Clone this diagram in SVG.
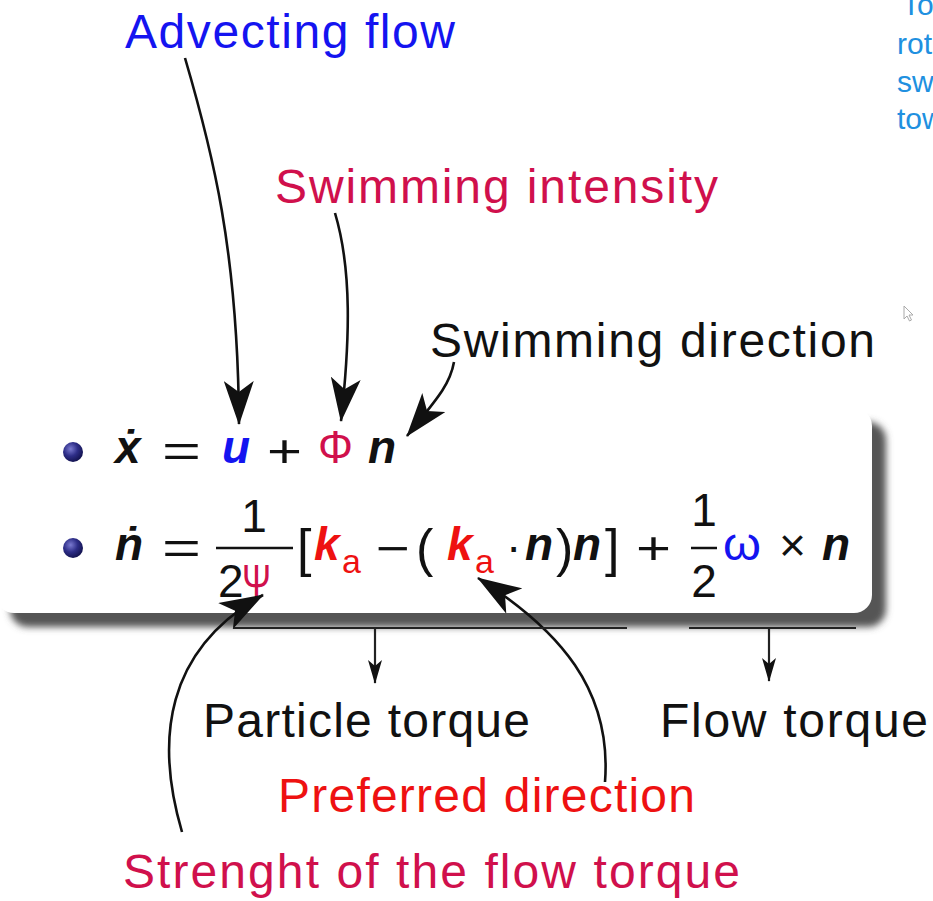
<svg xmlns="http://www.w3.org/2000/svg" width="933" height="901" viewBox="0 0 933 901">
<defs>
<style>
.lbl{font-family:"Liberation Sans","Open Sans",sans-serif;font-size:48px}
.m{font-family:"Liberation Sans","DejaVu Sans",sans-serif;font-size:46px;fill:#111}
.bi{font-weight:bold;font-style:italic}
.sub{font-family:"Liberation Sans","DejaVu Sans",sans-serif;font-size:34px;fill:#ee1111}
.br{font-family:"Liberation Sans","DejaVu Sans",sans-serif;font-size:52px;fill:#111}
.side{font-family:"Liberation Sans",Arial,sans-serif;font-size:30px;fill:#2090e0}
.blue{fill:#1414f0}
.crim{fill:#d0104c}
.red{fill:#ee1111}
.conn{fill:none;stroke:#111;stroke-width:2.6}
.thin{fill:none;stroke:#222;stroke-width:2.2}
</style>
<marker id="big" markerUnits="userSpaceOnUse" viewBox="0 0 44 30" refX="43" refY="15" markerWidth="44" markerHeight="30" orient="auto">
<path d="M44,15 L0,0 L11,15 L0,30 Z" fill="#111"/>
</marker>
<marker id="small" markerUnits="userSpaceOnUse" viewBox="0 0 24 14" refX="23" refY="7" markerWidth="24" markerHeight="14" orient="auto">
<path d="M24,7 L0,0 L6,7 L0,14 Z" fill="#111"/>
</marker>
<radialGradient id="ball" cx="0.38" cy="0.35" r="0.7">
<stop offset="0" stop-color="#7a7ad0"/>
<stop offset="0.5" stop-color="#2e2e88"/>
<stop offset="1" stop-color="#10104a"/>
</radialGradient>
<filter id="blur" x="-5%" y="-20%" width="110%" height="140%">
<feGaussianBlur stdDeviation="3.5"/>
</filter>
</defs>
<rect width="933" height="901" fill="#ffffff"/>

<g id="box">
<rect x="10" y="422" width="876" height="205" rx="18" fill="#555" filter="url(#blur)"/>
<rect x="-4" y="408" width="876" height="205" rx="18" fill="#ffffff"/>
</g>

<g id="side-text">
<text class="side" x="902" y="15">To</text>
<text class="side" x="897" y="54">rot</text>
<text class="side" x="897" y="92">sw</text>
<text class="side" x="897" y="129">tow</text>
<path d="M904,306 L904,319 L907,316 L909.5,321 L911.5,320 L909,315 L913,315 Z" fill="#fff" stroke="#aaa" stroke-width="1"/>
</g>

<g id="eq1">
<circle cx="73" cy="452" r="10" fill="url(#ball)"/>
<text class="m bi" x="115" y="463">ẋ</text>
<text class="m" x="162" y="467" textLength="39" lengthAdjust="spacingAndGlyphs">=</text>
<text class="m bi blue" x="222" y="463">u</text>
<text class="m" x="267" y="467" textLength="35" lengthAdjust="spacingAndGlyphs">+</text>
<text class="m crim" x="318" y="463" font-size="52" textLength="35" lengthAdjust="spacingAndGlyphs">Φ</text>
<text class="m bi" x="368" y="463">n</text>
</g>

<g id="eq2">
<circle cx="73" cy="548" r="10" fill="url(#ball)"/>
<text class="m bi" x="115" y="560">ṅ</text>
<text class="m" x="162" y="564" textLength="39" lengthAdjust="spacingAndGlyphs">=</text>
<text class="m" x="254" y="532" text-anchor="middle">1</text>
<line x1="216" y1="548" x2="293" y2="548" stroke="#111" stroke-width="2.5"/>
<text class="m" x="218" y="597">2</text>
<text class="m crim" x="242" y="597" font-size="50" textLength="29" lengthAdjust="spacingAndGlyphs">Ψ</text>
<text class="br" x="297" y="566">[</text>
<text class="m bi red" x="314" y="560">k</text>
<text class="sub" x="342" y="573">a</text>
<text class="m" x="376" y="564" textLength="34" lengthAdjust="spacingAndGlyphs">−</text>
<text class="br" x="416" y="566">(</text>
<text class="m bi red" x="447" y="560">k</text>
<text class="sub" x="475" y="573">a</text>
<text class="m" x="506" y="562">·</text>
<text class="m bi" x="525" y="560">n</text>
<text class="br" x="556" y="566">)</text>
<text class="m bi" x="573" y="560">n</text>
<text class="br" x="605" y="566">]</text>
<text class="m" x="636" y="564" textLength="35" lengthAdjust="spacingAndGlyphs">+</text>
<text class="m" x="704" y="526" text-anchor="middle">1</text>
<line x1="691" y1="548" x2="717" y2="548" stroke="#111" stroke-width="2.5"/>
<text class="m" x="704" y="597" text-anchor="middle">2</text>
<text class="m blue" x="723" y="560" font-size="50" textLength="38" lengthAdjust="spacingAndGlyphs">ω</text>
<text class="m" x="779" y="561" textLength="27" lengthAdjust="spacingAndGlyphs">×</text>
<text class="m bi" x="822" y="560">n</text>
</g>

<g id="labels">
<text class="lbl blue" x="125" y="48" textLength="330">Advecting flow</text>
<text class="lbl crim" x="275" y="203" textLength="443">Swimming intensity</text>
<text class="lbl" x="430" y="357" textLength="445" fill="#111">Swimming direction</text>
<text class="lbl" x="203" y="737" textLength="327" fill="#111">Particle torque</text>
<text class="lbl" x="660" y="737" textLength="268" fill="#111">Flow torque</text>
<text class="lbl red" x="278" y="812" textLength="417">Preferred direction</text>
<text class="lbl crim" x="123" y="888" textLength="617">Strenght of the flow torque</text>
</g>

<g id="connectors">
<path class="conn" d="M185,58 C212,150 238,250 239,424" marker-end="url(#big)"/>
<path class="conn" d="M335,213 C352,270 350,340 341,421" marker-end="url(#big)"/>
<path class="conn" d="M454,362 C450,385 436,400 407,436" marker-end="url(#big)"/>
<path class="conn" d="M182,832 C155,740 165,650 263,595" marker-end="url(#big)"/>
<path class="conn" d="M605,782 C612,690 560,630 478,578" marker-end="url(#big)"/>
<line class="thin" x1="233" y1="628" x2="627" y2="628"/>
<line class="thin" x1="689" y1="628" x2="856" y2="628"/>
<path class="thin" d="M375,628 L375,683" marker-end="url(#small)"/>
<path class="thin" d="M769,628 L769,681" marker-end="url(#small)"/>
</g>
</svg>
